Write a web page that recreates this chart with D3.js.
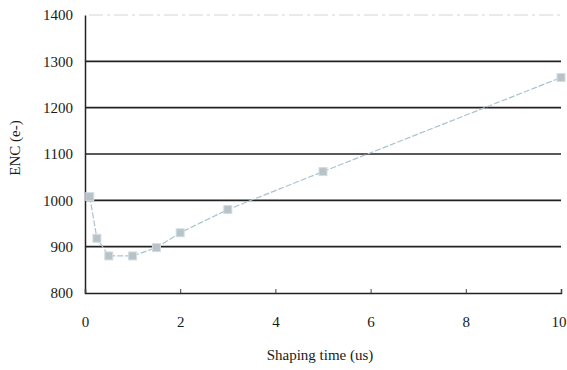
<!DOCTYPE html>
<html><head><meta charset="utf-8">
<script src="https://cdn.jsdelivr.net/npm/d3@7"></script>
<style>body{margin:0;background:#fff}svg{display:block}</style>
</head><body>
<svg id="c" width="567" height="370"></svg>
<script>
const shapingTime = [0.1, 0.25, 0.5, 1, 1.5, 2, 3, 5, 10];
const encValues = [1008, 918, 880, 880, 898, 930, 980, 1062, 1265];
const xTicks = [0, 2, 4, 6, 8, 10];
const yTicks = [800, 900, 1000, 1100, 1200, 1300, 1400];
const xLabel = "Shaping time (us)";
const yLabel = "ENC (e-)";

const svg = d3.select("#c");
const x = d3.scaleLinear().domain([0, 10]).range([85, 561]);
const y = d3.scaleLinear().domain([800, 1400]).range([293, 15]);
const font = "'Liberation Serif','Times New Roman',serif";

// gridlines
svg.append("g").selectAll("line").data(yTicks.filter(d => d > 800 && d < 1400)).join("line")
  .attr("x1", x(0)).attr("x2", x(10)).attr("y1", d => y(d)).attr("y2", d => y(d))
  .attr("stroke", "#222").attr("stroke-width", 1.6);
// faint top line
svg.append("line").attr("x1", x(0) + 4).attr("x2", x(10)).attr("y1", y(1400)).attr("y2", y(1400))
  .attr("stroke", "#d4d4d4").attr("stroke-width", 1).attr("stroke-dasharray", "14,4,3,4");

// axes
const yAxis = d3.axisLeft(y).tickValues(yTicks).tickFormat(d3.format("d")).tickSize(0).tickPadding(12);
const gy = svg.append("g").attr("transform", `translate(${x(0)},0)`).call(yAxis);
gy.select(".domain").attr("stroke", "#222").attr("stroke-width", 1.5);
gy.selectAll("text").attr("font-family", font).attr("font-size", 15).attr("fill", "#1a1a1a");

const xAxis = d3.axisBottom(x).tickValues(xTicks).tickFormat(d3.format("d")).tickSize(-4).tickPadding(23);
const gx = svg.append("g").attr("transform", `translate(0,${y(800)})`).call(xAxis);
gx.select(".domain").attr("stroke", "#222").attr("stroke-width", 1.5);
gx.selectAll(".tick line").attr("stroke", "#444");
gx.selectAll("text").attr("font-family", font).attr("font-size", 15).attr("fill", "#1a1a1a");
// keep the last label inside the page
gx.selectAll(".tick text").filter(d => d === 10).attr("text-anchor", "end").attr("x", 5);

// line
svg.append("path").datum(shapingTime.map((t, i) => [t, encValues[i]]))
  .attr("d", d3.line().x(d => x(d[0])).y(d => y(d[1])))
  .attr("fill", "none").attr("stroke", "#a9c3cc").attr("stroke-width", 1.2)
  .attr("stroke-dasharray", "6,2");
// markers
svg.append("g").selectAll("rect").data(shapingTime.map((t, i) => [t, encValues[i]])).join("rect")
  .attr("x", d => x(d[0]) - 4).attr("y", d => y(d[1]) - 4).attr("width", 8).attr("height", 8)
  .attr("fill", "#b7c3c9").attr("stroke", "#d3dde1").attr("stroke-width", 1);

// labels
svg.append("text").attr("x", 320).attr("y", 360).attr("text-anchor", "middle")
  .attr("font-family", font).attr("font-size", 15).attr("fill", "#1a1a1a").text(xLabel);
svg.append("text").attr("transform", "translate(20,148) rotate(-90)").attr("text-anchor", "middle")
  .attr("font-family", font).attr("font-size", 15).attr("fill", "#1a1a1a").text(yLabel);
</script>
</body></html>
